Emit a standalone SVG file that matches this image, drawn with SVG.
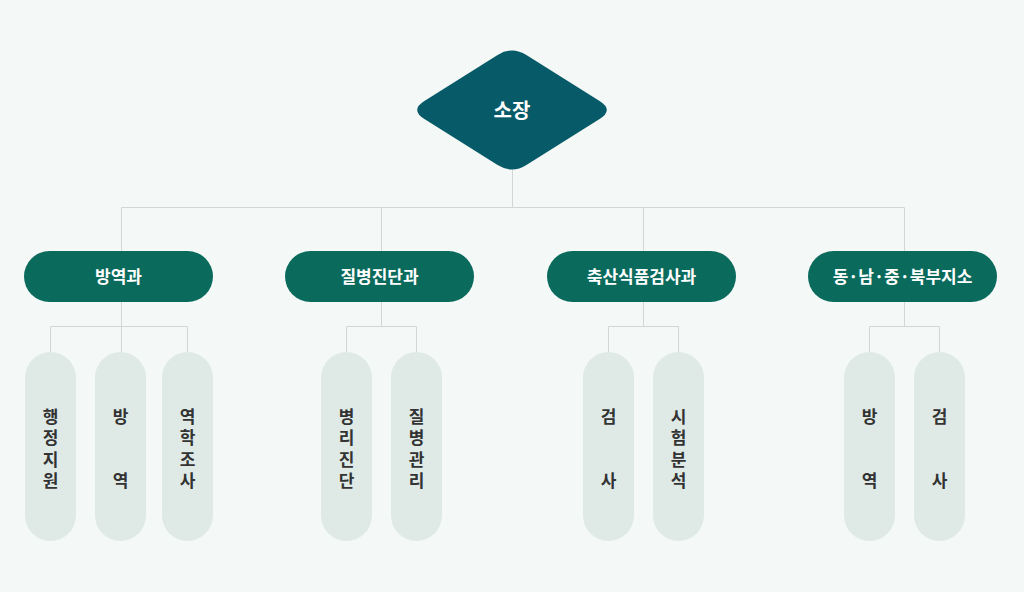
<svg xmlns="http://www.w3.org/2000/svg" width="1024" height="592" viewBox="0 0 1024 592">
<style>
.bg{fill:#f4f8f7}
.ln{stroke:#d4d6d6;stroke-width:1;fill:none}
.dept{fill:#0a6b5d}
.sub{fill:#dfeae6}
.t1{font-family:"Noto Sans CJK KR","Noto Sans",sans-serif;font-weight:700;fill:#ffffff;text-anchor:middle}
.t2{font-family:"Noto Sans CJK KR","Noto Sans",sans-serif;font-weight:700;fill:#333333;text-anchor:middle;font-size:17px}
</style>
<rect class="bg" x="0" y="0" width="1024" height="592"/>
<g id="connectors">
<path class="ln" d="M512.5 169V207.5M121.5 207.5H904.5M121.5 207.5V251M381.5 207.5V251M643.5 207.5V251M904.5 207.5V251"/>
<path class="ln" d="M121.5 302V352M50.5 326.5H187.5M50.5 326.5V352M187.5 326.5V352"/>
<path class="ln" d="M381.5 302V326.5M346.5 326.5H416.5M346.5 326.5V352M416.5 326.5V352"/>
<path class="ln" d="M643.5 302V326.5M608.5 326.5H678.5M608.5 326.5V352M678.5 326.5V352"/>
<path class="ln" d="M904.5 302V326.5M869.5 326.5H939.5M869.5 326.5V352M939.5 326.5V352"/>
</g>
<g id="chief">
<path fill="#075a67" d="M497.6 55Q512 46 526.4 55L599.6 101Q614 110 599.6 119L526.4 165Q512 174 497.6 165L424.4 119Q410 110 424.4 101Z"/>
<text class="t1" x="512" y="117.5" font-size="20">소장</text>
</g>
<g id="dept1"><rect class="dept" x="24" y="251" width="189" height="51" rx="25.5"/><text class="t1" x="118.5" y="282.5" font-size="17">방역과</text></g>
<g id="dept2"><rect class="dept" x="285" y="251" width="189" height="51" rx="25.5"/><text class="t1" x="379.5" y="282.5" font-size="17">질병진단과</text></g>
<g id="dept3"><rect class="dept" x="547" y="251" width="189" height="51" rx="25.5"/><text class="t1" x="641.5" y="282.5" font-size="17">축산식품검사과</text></g>
<g id="dept4"><rect class="dept" x="808" y="251" width="189" height="51" rx="25.5"/><text class="t1" x="902.5" y="282.5" font-size="17">동·남·중·북부지소</text></g>
<g id="sub1a"><rect class="sub" x="25" y="352" width="51" height="189" rx="25.5"/><text class="t2" x="50.5"><tspan x="50.5" y="422.5">행</tspan><tspan x="50.5" y="444">정</tspan><tspan x="50.5" y="465.5">지</tspan><tspan x="50.5" y="487">원</tspan></text></g>
<g id="sub1b"><rect class="sub" x="95" y="352" width="51" height="189" rx="25.5"/><text class="t2" x="120.5"><tspan x="120.5" y="422.5">방</tspan><tspan x="120.5" y="487">역</tspan></text></g>
<g id="sub1c"><rect class="sub" x="162" y="352" width="51" height="189" rx="25.5"/><text class="t2" x="187.5"><tspan x="187.5" y="422.5">역</tspan><tspan x="187.5" y="444">학</tspan><tspan x="187.5" y="465.5">조</tspan><tspan x="187.5" y="487">사</tspan></text></g>
<g id="sub2a"><rect class="sub" x="321" y="352" width="51" height="189" rx="25.5"/><text class="t2" x="346.5"><tspan x="346.5" y="422.5">병</tspan><tspan x="346.5" y="444">리</tspan><tspan x="346.5" y="465.5">진</tspan><tspan x="346.5" y="487">단</tspan></text></g>
<g id="sub2b"><rect class="sub" x="391" y="352" width="51" height="189" rx="25.5"/><text class="t2" x="416.5"><tspan x="416.5" y="422.5">질</tspan><tspan x="416.5" y="444">병</tspan><tspan x="416.5" y="465.5">관</tspan><tspan x="416.5" y="487">리</tspan></text></g>
<g id="sub3a"><rect class="sub" x="583" y="352" width="51" height="189" rx="25.5"/><text class="t2" x="608.5"><tspan x="608.5" y="422.5">검</tspan><tspan x="608.5" y="487">사</tspan></text></g>
<g id="sub3b"><rect class="sub" x="653" y="352" width="51" height="189" rx="25.5"/><text class="t2" x="678.5"><tspan x="678.5" y="422.5">시</tspan><tspan x="678.5" y="444">험</tspan><tspan x="678.5" y="465.5">분</tspan><tspan x="678.5" y="487">석</tspan></text></g>
<g id="sub4a"><rect class="sub" x="844" y="352" width="51" height="189" rx="25.5"/><text class="t2" x="869.5"><tspan x="869.5" y="422.5">방</tspan><tspan x="869.5" y="487">역</tspan></text></g>
<g id="sub4b"><rect class="sub" x="914" y="352" width="51" height="189" rx="25.5"/><text class="t2" x="939.5"><tspan x="939.5" y="422.5">검</tspan><tspan x="939.5" y="487">사</tspan></text></g>
</svg>
